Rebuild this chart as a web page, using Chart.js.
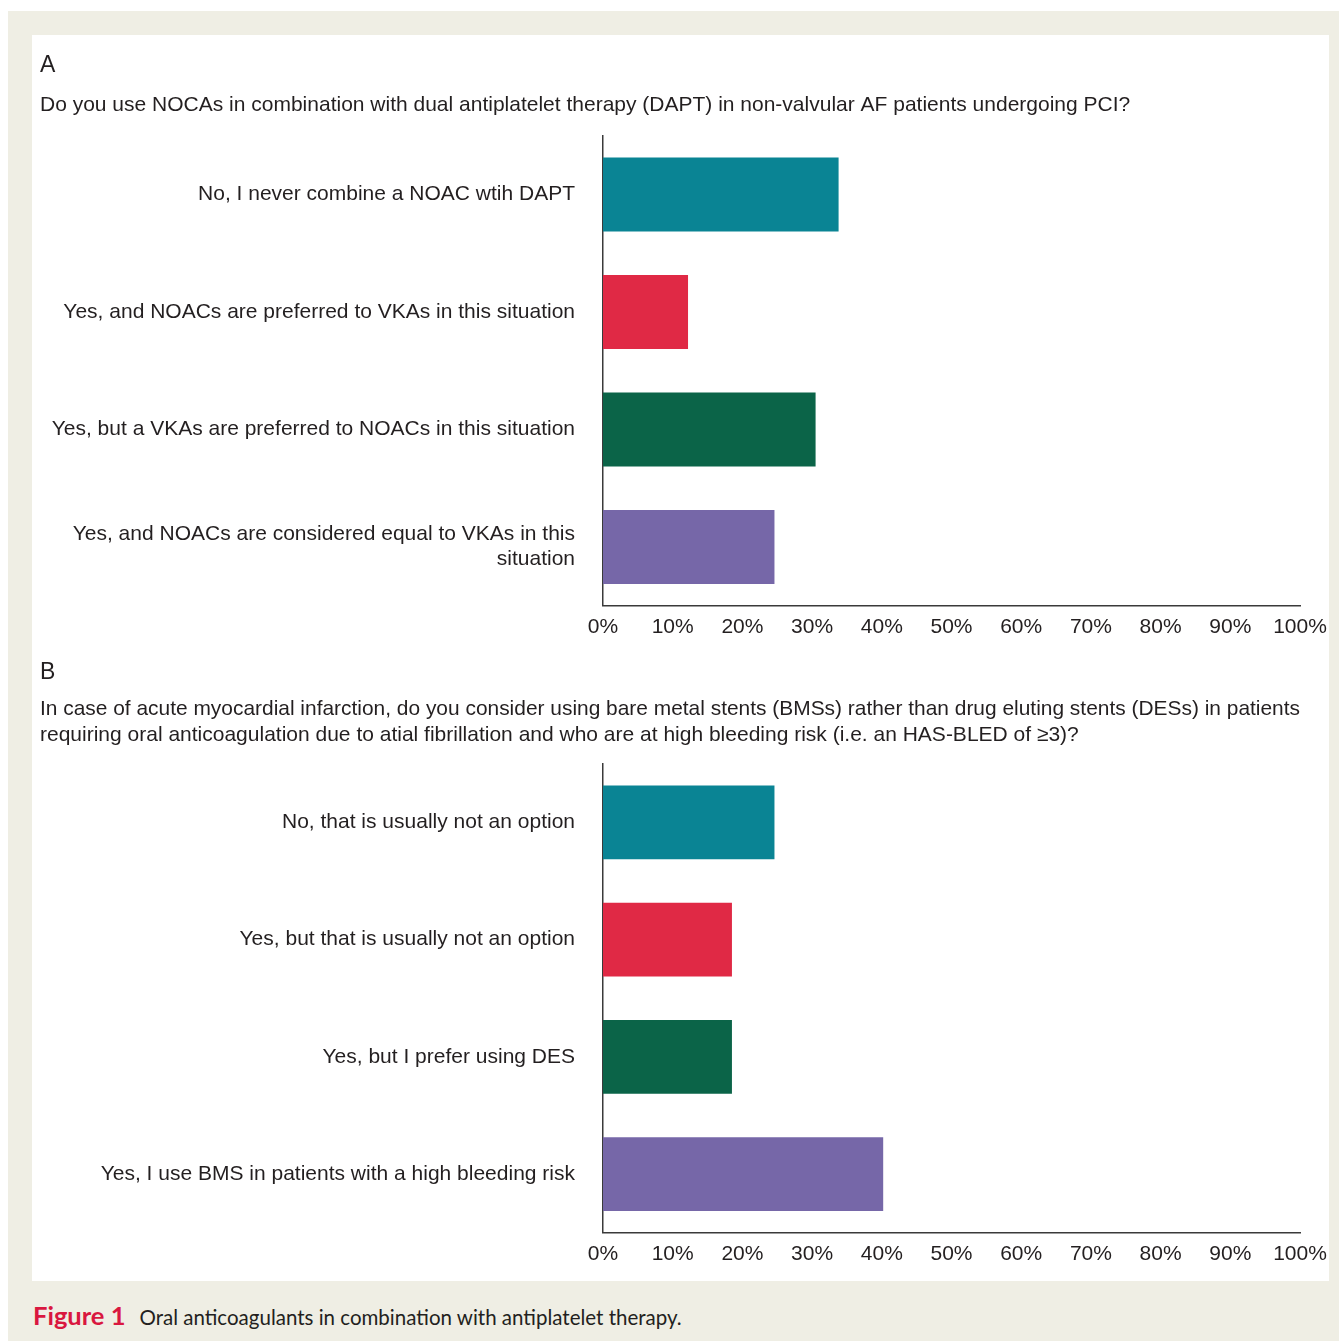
<!DOCTYPE html>
<html>
<head>
<meta charset="utf-8">
<script src="https://cdn.jsdelivr.net/npm/chart.js@4.4.1/dist/chart.umd.min.js"></script>
<style>
	body { margin: 0; background: #ffffff; }
	#frame { position: absolute; left: 8px; top: 11px; width: 1331px; height: 1330px; background: #efeee4; }
	#panel { position: absolute; left: 32px; top: 35px; width: 1297px; height: 1246px; background: #ffffff; }
	#panel canvas { position: absolute; left: 0; }
	#chartA { top: 0; }
	#chartB { top: 620px; }
	#caption { position: absolute; left: 33px; top: 1300px; font-family: "Lato", "Open Sans", sans-serif; font-size: 20.5px; color: #231f20; white-space: nowrap; }
	#caption b { color: #d9173f; font-size: 25.5px; margin-right: 14px; }
</style>
</head>
<body>
<div id="frame"></div>
<div id="panel">
	<canvas id="chartA" width="1297" height="620"></canvas>
	<canvas id="chartB" width="1297" height="626"></canvas>
</div>
<div id="caption"><b>Figure 1</b>Oral anticoagulants in combination with antiplatelet therapy.</div>

<script>
// data (percent of respondents)
const questionA = "Do you use NOCAs in combination with dual antiplatelet therapy (DAPT) in non-valvular AF patients undergoing PCI?";
const labelsA = [
	"No, I never combine a NOAC wtih DAPT",
	"Yes, and NOACs are preferred to VKAs in this situation",
	"Yes, but a VKAs are preferred to NOACs in this situation",
	["Yes, and NOACs are considered equal to VKAs in this", "situation"]
];
const valuesA = [33.8, 12.2, 30.5, 24.6];

const questionB = [
	"In case of acute myocardial infarction, do you consider using bare metal stents (BMSs) rather than drug eluting stents (DESs) in patients",
	"requiring oral anticoagulation due to atial fibrillation and who are at high bleeding risk (i.e. an HAS-BLED of \u22653)?"
];
const labelsB = [
	"No, that is usually not an option",
	"Yes, but that is usually not an option",
	"Yes, but I prefer using DES",
	"Yes, I use BMS in patients with a high bleeding risk"
];
const valuesB = [24.6, 18.5, 18.5, 40.2];

const xTickLabels = ["0%", "10%", "20%", "30%", "40%", "50%", "60%", "70%", "80%", "90%", "100%"];
const barColors = ["#0a8494", "#e02945", "#0b6448", "#7667a8"];

const fontFamily = "'Liberation Sans', Arial, sans-serif";
const textColor = "#231f20";

function makeChart(id, letter, question, labels, values, pad) {
	return new Chart(document.getElementById(id), {
		type: "bar",
		data: {
			labels: labels,
			datasets: [
				{
					data: values,
					backgroundColor: barColors,
					borderWidth: 0,
					categoryPercentage: 1.0,
					barPercentage: 0.63,
				},
			],
		},
		options: {
			indexAxis: "y",
			responsive: false,
			animation: false,
			layout: {
				padding: { left: 8, right: 29, top: 0, bottom: pad.bottom },
			},
			plugins: {
				legend: { display: false },
				tooltip: { enabled: false },
				title: {
					display: true,
					text: letter,
					align: "start",
					color: textColor,
					font: { family: fontFamily, size: 23, weight: "normal" },
					padding: { top: pad.titleTop, bottom: pad.titleBottom },
				},
				subtitle: {
					display: true,
					text: question,
					align: "start",
					color: textColor,
					font: { family: fontFamily, size: 21, weight: "normal", lineHeight: 1.24 },
					padding: { top: 0, bottom: pad.subBottom },
				},
			},
			scales: {
				x: {
					min: 0,
					max: 100,
					grid: { display: false, drawTicks: false },
					border: { display: true, color: "#3a3a3a", width: 1.5 },
					ticks: {
						stepSize: 10,
						autoSkip: false,
						maxRotation: 0,
						padding: 9,
						color: textColor,
						font: { family: fontFamily, size: 21 },
						callback: function (value, index) {
							return xTickLabels[index];
						},
					},
					// let the 100% label hang past the axis end, as in the figure
					afterFit: function (scale) {
						scale.paddingRight = 0;
					},
				},
				y: {
					grid: { display: false, drawTicks: false },
					border: { display: true, color: "#3a3a3a", width: 1.5 },
					ticks: {
						padding: 28,
						color: textColor,
						font: { family: fontFamily, size: 21, lineHeight: 1.2 },
					},
					afterFit: function (scale) {
						scale.width = 563;
					},
				},
			},
		},
	});
}

makeChart("chartA", "A", questionA, labelsA, valuesA, { titleTop: 17, titleBottom: 13, subBottom: 17, bottom: 6 });
makeChart("chartB", "B", questionB, labelsB, valuesB, { titleTop: 4, titleBottom: 10, subBottom: 15, bottom: 5 });
</script>
</body>
</html>
